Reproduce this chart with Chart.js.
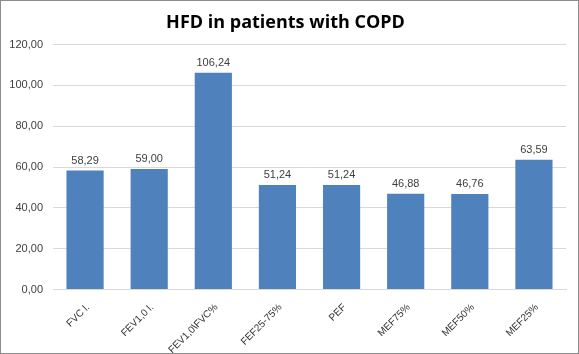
<!DOCTYPE html>
<html>
<head>
<meta charset="utf-8">
<script src="https://cdn.jsdelivr.net/npm/chart.js@4/dist/chart.umd.min.js"></script>
<style>
  html, body { margin: 0; padding: 0; background: #fff; }
  #wrap { width: 579px; height: 354px; box-sizing: border-box; border: 1px solid #8c8c8c; }
</style>
</head>
<body>
<div id="wrap"><canvas id="chart" width="577" height="352"></canvas></div>
<script>
const categories = ["FVC l.", "FEV1,0 l.", "FEV1,0\\FVC%", "FEF25-75%", "PEF", "MEF75%", "MEF50%", "MEF25%"];
const values = [58.29, 59.00, 106.24, 51.24, 51.24, 46.88, 46.76, 63.59];
const yTicks = [0, 20, 40, 60, 80, 100, 120];

const fmt = v => v.toFixed(2).replace(".", ",");

// draws the value above each bar
const barValues = {
  id: "barValues",
  afterDatasetsDraw(chart) {
    const ctx = chart.ctx;
    const meta = chart.getDatasetMeta(0);
    ctx.save();
    ctx.font = "11px 'Liberation Sans', Arial, sans-serif";
    ctx.fillStyle = "#404040";
    ctx.textAlign = "center";
    ctx.textBaseline = "middle";
    meta.data.forEach((bar, i) => {
      ctx.fillText(fmt(values[i]), bar.x, bar.y - 10);
    });
    ctx.restore();
  }
};

new Chart(document.getElementById("chart").getContext("2d"), {
  type: "bar",
  data: {
    labels: categories,
    datasets: [{
      data: values,
      backgroundColor: "#4f81bd",
      barPercentage: 0.58,
      categoryPercentage: 1
    }]
  },
  options: {
    responsive: false,
    animation: false,
    layout: { padding: { left: 4, right: 12, top: 3, bottom: 0 } },
    plugins: {
      legend: { display: false },
      tooltip: { enabled: false },
      title: {
        display: true,
        text: "HFD in patients with COPD",
        color: "#000",
        font: { family: "'Open Sans', sans-serif", size: 18, weight: "bold" },
        padding: { top: 8, bottom: 11 }
      }
    },
    scales: {
      x: {
        grid: { display: false },
        border: { color: "#d9d9d9" },
        ticks: {
          color: "#333",
          font: { family: "'Liberation Sans', Arial, sans-serif", size: 10 },
          minRotation: 45,
          maxRotation: 45,
          padding: 4,
          labelOffset: 3
        },
        afterFit: s => { s.height = 63.5; }
      },
      y: {
        min: 0,
        max: 120,
        afterBuildTicks: s => { s.ticks = yTicks.map(v => ({ value: v })); },
        grid: { color: "#d9d9d9", drawTicks: false },
        border: { display: false },
        ticks: {
          color: "#404040",
          font: { family: "'Liberation Sans', Arial, sans-serif", size: 11 },
          padding: 10,
          callback: v => fmt(v)
        },
        afterFit: s => { s.width = 48; }
      }
    }
  },
  plugins: [barValues]
});
</script>
</body>
</html>
